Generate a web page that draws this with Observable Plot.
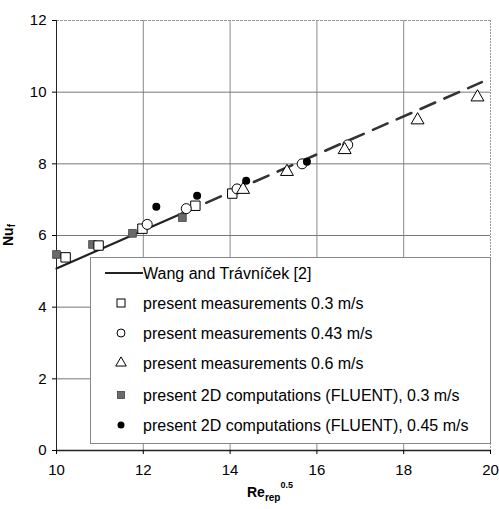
<!DOCTYPE html>
<html><head><meta charset="utf-8">
<script src="https://cdn.jsdelivr.net/npm/d3@7"></script>
<script src="https://cdn.jsdelivr.net/npm/@observablehq/plot@0.6"></script>
<style>
body{margin:0;background:#fff}
#wrap{position:relative;width:499px;height:509px;font-family:"Liberation Sans",Arial,sans-serif;color:#000}
.lbl{position:absolute;font-weight:bold;white-space:nowrap}
</style>
</head><body><div id="wrap"></div>
<script>
// Data
const xTicks = [10, 12, 14, 16, 18, 20];
const yTicks = [0, 2, 4, 6, 8, 10, 12];
const xGrid = [12, 14, 16, 18];
const yGrid = [2, 4, 6, 8, 10];

// Wang and Trávníček correlation (solid in measured range, dashed extrapolation)
const wangSolidX = [10, 12.9];
const wangSolidY = [5.08, 6.62];
const wangDashX = [12.9, 19.8];
const wangDashY = [6.62, 10.28];

const meas03X = [10.21, 10.97, 11.98, 13.2, 14.05];
const meas03Y = [5.39, 5.72, 6.19, 6.83, 7.17];
const meas043X = [12.09, 12.99, 14.16, 15.66, 16.71];
const meas043Y = [6.31, 6.75, 7.3, 8.0, 8.53];
const meas06X = [14.3, 15.31, 16.64, 18.32, 19.7];
const meas06Y = [7.28, 7.78, 8.39, 9.22, 9.86];
const cfd03X = [10.0, 10.83, 11.75, 12.9];
const cfd03Y = [5.47, 5.75, 6.06, 6.5];
const cfd045X = [12.3, 13.24, 14.37, 15.77];
const cfd045Y = [6.8, 7.11, 7.53, 8.06];

const legendLabels = [
  "Wang and Trávníček [2]",
  "present measurements 0.3 m/s",
  "present measurements 0.43 m/s",
  "present measurements 0.6 m/s",
  "present 2D computations (FLUENT), 0.3 m/s",
  "present 2D computations (FLUENT), 0.45 m/s"
];

const zip = (xs, ys) => xs.map((x, i) => ({x, y: ys[i]}));

const chart = Plot.plot({
  width: 499, height: 509,
  marginLeft: 56, marginRight: 9, marginTop: 20, marginBottom: 59,
  style: {fontFamily: '"Liberation Sans", Arial, sans-serif', fontSize: "15px", color: "#000", background: "#fff"},
  x: {domain: [10, 20]},
  y: {domain: [0, 12]},
  marks: [
    Plot.ruleX(xGrid, {stroke: "#8a8a8a", strokeWidth: 1}),
    Plot.ruleY(yGrid, {stroke: "#777", strokeWidth: 1}),
    Plot.ruleX([20], {stroke: "#999", strokeDasharray: "2,1"}),
    Plot.ruleY([12], {stroke: "#999", strokeDasharray: "3,1"}),
    Plot.ruleX([10], {stroke: "#222", strokeWidth: 1}),
    Plot.ruleY([0], {stroke: "#222", strokeWidth: 1.5}),
    Plot.axisX({ticks: xTicks, tickSize: 4, tickPadding: 10, fontSize: 15, label: null}),
    Plot.axisY({ticks: yTicks, tickSize: 4, tickPadding: 6, fontSize: 15, label: null}),
    Plot.line(zip(wangSolidX, wangSolidY), {x: "x", y: "y", stroke: "#222", strokeWidth: 2.2}),
    Plot.line(zip(wangDashX, wangDashY), {x: "x", y: "y", stroke: "#333", strokeWidth: 2.6, strokeDasharray: "16,10"}),
    Plot.dot(zip(cfd03X, cfd03Y), {x: "x", y: "y", symbol: "square", r: 4.4, fill: "#6a6a6a", stroke: "#444", strokeWidth: 0.8}),
    Plot.dot(zip(meas03X, meas03Y), {x: "x", y: "y", symbol: "square", r: 5.3, fill: "#fff", stroke: "#000", strokeWidth: 1}),
    Plot.dot(zip(meas043X, meas043Y), {x: "x", y: "y", symbol: "circle", r: 5, fill: "#fff", stroke: "#000", strokeWidth: 1}),
    Plot.dot(zip(meas06X, meas06Y), {x: "x", y: "y", symbol: "triangle", r: 4.8, fill: "#fff", stroke: "#000", strokeWidth: 1}),
    Plot.dot(zip(cfd045X, cfd045Y), {x: "x", y: "y", symbol: "circle", r: 4, fill: "#000", stroke: "none"})
  ]
});

const wrap = document.getElementById("wrap");
chart.style.position = "absolute";
chart.style.left = "0px";
chart.style.top = "0px";
wrap.appendChild(chart);

// Legend overlay
const lg = d3.select(wrap).append("svg")
  .attr("width", 401).attr("height", 187)
  .style("position", "absolute").style("left", "90px").style("top", "257px");
lg.append("rect").attr("x", 0.5).attr("y", 0.5).attr("width", 400).attr("height", 186)
  .attr("fill", "#fff").attr("stroke", "#888").attr("stroke-width", 1);
const rowY = [16, 46, 76, 106, 138, 168];
const symX = 31;
legendLabels.forEach((t, i) => {
  const g = lg.append("g");
  const cy = rowY[i];
  if (i === 0) {
    g.append("line").attr("x1", 15).attr("x2", 53).attr("y1", cy).attr("y2", cy).attr("stroke", "#222").attr("stroke-width", 2);
  } else if (i === 1) {
    g.append("rect").attr("x", symX - 4).attr("y", cy - 4).attr("width", 8).attr("height", 8).attr("fill", "#fff").attr("stroke", "#000");
  } else if (i === 2) {
    g.append("circle").attr("cx", symX).attr("cy", cy).attr("r", 4).attr("fill", "#fff").attr("stroke", "#000");
  } else if (i === 3) {
    g.append("path").attr("d", d3.symbol(d3.symbolTriangle, 48)()).attr("transform", `translate(${symX},${cy})`).attr("fill", "#fff").attr("stroke", "#000");
  } else if (i === 4) {
    g.append("rect").attr("x", symX - 3.5).attr("y", cy - 3.5).attr("width", 7).attr("height", 7).attr("fill", "#6a6a6a").attr("stroke", "#444").attr("stroke-width", 0.8);
  } else {
    g.append("circle").attr("cx", symX).attr("cy", cy).attr("r", 3.5).attr("fill", "#000");
  }
  g.append("text").attr("x", 53).attr("y", cy).attr("dy", "0.36em")
    .attr("font-family", '"Liberation Sans", Arial, sans-serif').attr("font-size", 16).attr("fill", "#000").text(t);
});

// Axis labels
const xl = document.createElement("div");
xl.className = "lbl";
xl.style.left = "247px"; xl.style.top = "484px"; xl.style.fontSize = "14px";
xl.innerHTML = 'Re<span style="font-size:10px;position:relative;top:4px">rep</span><span style="font-size:9px;position:relative;top:-9px">0.5</span>';
wrap.appendChild(xl);

const yl = document.createElement("div");
yl.className = "lbl";
yl.style.left = "-3px"; yl.style.top = "227px"; yl.style.fontSize = "14px";
yl.style.transform = "rotate(-90deg)"; yl.style.transformOrigin = "center";
yl.innerHTML = 'Nu<span style="font-size:10px;position:relative;top:2px">f</span>';
wrap.appendChild(yl);
</script>
</body></html>
